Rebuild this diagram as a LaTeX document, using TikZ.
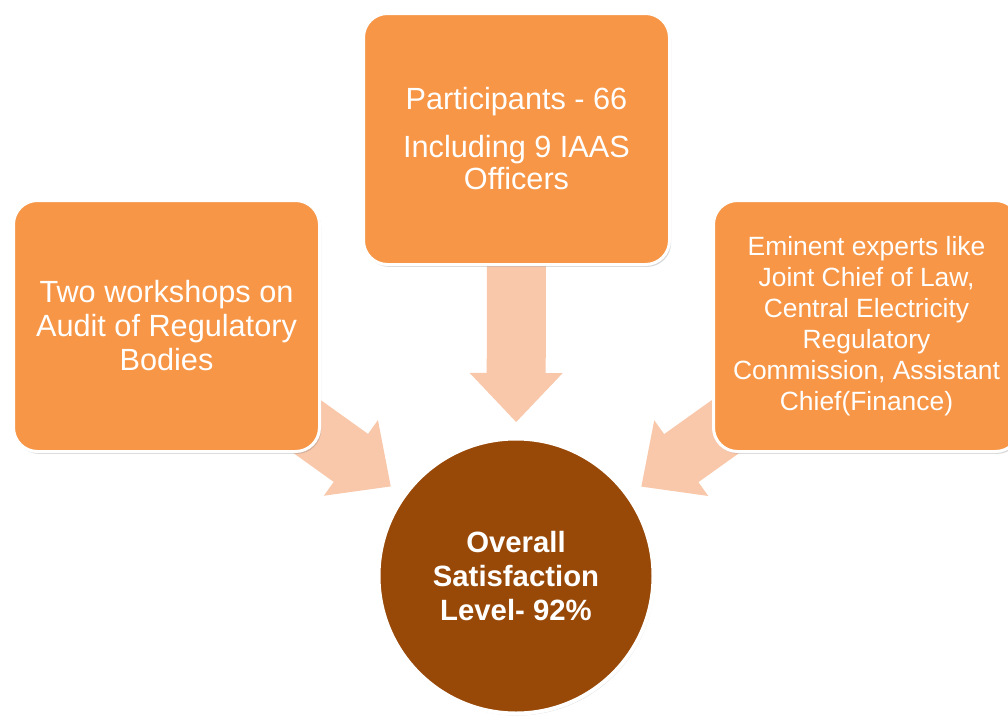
\documentclass[tikz,border=0pt]{standalone}
\usepackage{fontspec}
\setmainfont{Liberation Sans}
\usetikzlibrary{calc,shadows,backgrounds}
\pgfdeclarelayer{paper}
\pgfsetlayers{paper,background,main}
\definecolor{boxorange}{HTML}{F79646}
\definecolor{arrowpeach}{HTML}{F9C7AA}
\definecolor{circbrown}{HTML}{984807}
\newcommand\fatarrow[2]{%
  \coordinate (#1-t) at ($(#2)!115.5pt!(#1)$);
  \coordinate (#1-b) at ($(#2)!152.25pt!(#1)$);
  \fill[arrowpeach] ($(#1)!22.125pt!-90:(#2)$) -- ($(#1-b)!22.125pt!90:(#1)$)
    -- ($(#1-b)!34.875pt!90:(#1)$) -- (#1-t) -- ($(#1-b)!34.875pt!-90:(#1)$)
    -- ($(#1-b)!22.125pt!-90:(#1)$) -- ($(#1)!22.125pt!90:(#2)$) -- cycle;}
\begin{document}
\begin{tikzpicture}[x=0.75pt,y=-0.75pt,
  boxnode/.style={rectangle, rounded corners=18pt, fill=boxorange, draw=white,
    line width=2.25pt, minimum width=229.5pt, minimum height=188.25pt,
    inner sep=2pt, text=white, align=center,
    drop shadow={shadow xshift=1.2pt, shadow yshift=-1.8pt, opacity=0.3}},
  bigfont/.style={font=\fontsize{23pt}{25.5pt}\selectfont},
  smallfont/.style={font=\fontsize{19.8pt}{23.25pt}\selectfont}]
\useasboundingbox (0,0) rectangle (1008,718);
\begin{pgfonlayer}{paper}
\fill[white] (0,0) rectangle (1008,718);
\end{pgfonlayer}
\clip (0,0) rectangle (1008,718);

\node[boxnode, bigfont] (left) at (166.5,326)
  {Two workshops on\\Audit of Regulatory\\Bodies};
\node[boxnode, font=\fontsize{23pt}{24pt}\selectfont] (top) at (516.5,139)
  {Participants - 66\\[12pt]Including 9 IAAS\\Officers};
\node[boxnode, smallfont] (right) at (866.5,326)
  {Eminent experts like\\Joint Chief of Law,\\Central Electricity\\Regulatory\\Commission, Assistant\\Chief(Finance)};
\node[circle, fill=circbrown, draw=white, line width=3pt, minimum size=206.25pt,
  inner sep=0pt, text=white, align=center,
  font=\bfseries\fontsize{22pt}{25.5pt}\selectfont,
  drop shadow={shadow xshift=1pt, shadow yshift=-1.5pt, opacity=0.25}] (sat) at (516,576)
  {Overall\\Satisfaction\\Level- 92\%};

\begin{pgfonlayer}{background}
  \fatarrow{left}{sat}
  \fatarrow{top}{sat}
  \fatarrow{right}{sat}
\end{pgfonlayer}
\end{tikzpicture}
\end{document}
